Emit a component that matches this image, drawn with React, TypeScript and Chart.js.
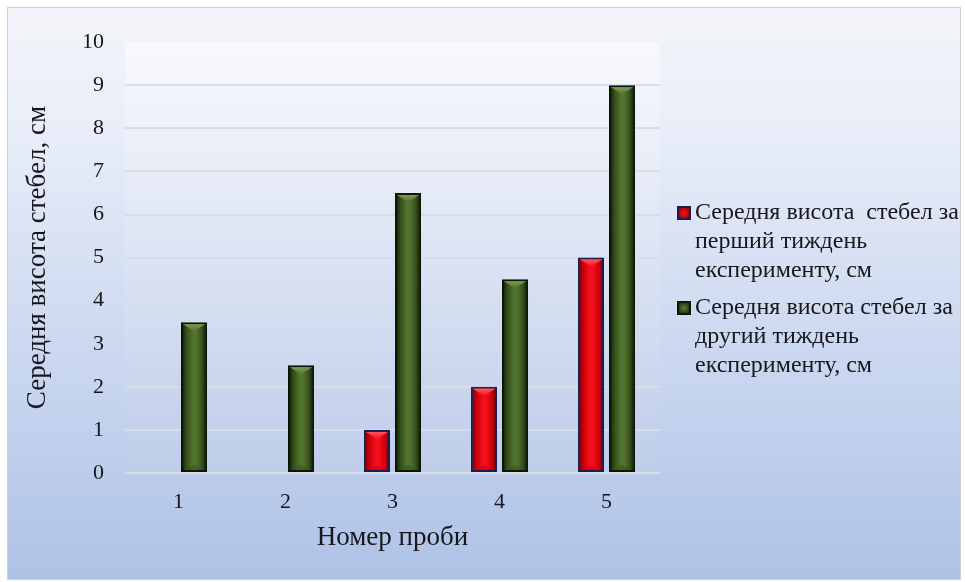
import { useEffect, useRef } from "react";
import { Chart, registerables } from "chart.js";

Chart.register(...registerables);

// Sample numbers on the x axis
const categories = ["1", "2", "3", "4", "5"];

// Mean stem height, cm
const firstWeek = [0, 0, 1, 2, 5];
const secondWeek = [3.5, 2.5, 6.5, 4.5, 9];

// Legend entries, already split into lines
const firstWeekLabel = ["Середня висота  стебел за", "перший тиждень", "експерименту, см"];
const secondWeekLabel = ["Середня висота стебел за", "другий тиждень", "експерименту, см"];

const yMin = 0;
const yMax = 10;
const yStep = 1;

const xTitle = "Номер проби";
const yTitle = "Середня висота стебел, см";

const FONT = "'Liberation Serif', 'Times New Roman', serif";
const TEXT = "#16161c";

type Shade = { edge: string; mid: string; core: string; bevel: string; border: string };

const RED: Shade = { edge: "#8c0008", mid: "#d0000c", core: "#f2101a", bevel: "#ff5a60", border: "#1c1c4e" };
const GREEN: Shade = { edge: "#182b0b", mid: "#36531d", core: "#52722f", bevel: "#819e58", border: "#0c1606" };
const shades = [RED, GREEN];

const backgroundPlugin = {
  id: "panelBackground",
  beforeDraw(chart: Chart) {
    const { ctx, width, height, chartArea } = chart;
    ctx.save();
    const g = ctx.createLinearGradient(0, 0, 0, height);
    g.addColorStop(0, "#f4f5f9");
    g.addColorStop(0.2, "#e9eef9");
    g.addColorStop(1, "#aec2e6");
    ctx.fillStyle = g;
    ctx.fillRect(0, 0, width, height);

    const pg = ctx.createLinearGradient(0, chartArea.top, 0, chartArea.bottom);
    pg.addColorStop(0, "#f8f9fc");
    pg.addColorStop(0.35, "#e4eaf6");
    pg.addColorStop(1, "#bfcdea");
    ctx.fillStyle = pg;
    ctx.fillRect(chartArea.left, chartArea.top, chartArea.right - chartArea.left, chartArea.bottom - chartArea.top);
    ctx.restore();
  },
};

function paintBar(ctx: CanvasRenderingContext2D, l: number, t: number, r: number, b: number, s: Shade) {
  const w = r - l;
  const h = b - t;
  if (w <= 0 || h <= 0) return;
  const g = ctx.createLinearGradient(l, 0, r, 0);
  g.addColorStop(0, s.edge);
  g.addColorStop(0.18, s.mid);
  g.addColorStop(0.45, s.core);
  g.addColorStop(0.6, s.core);
  g.addColorStop(0.85, s.mid);
  g.addColorStop(1, s.edge);
  ctx.fillStyle = g;
  ctx.fillRect(l, t, w, h);

  // bevelled cap at the top of the bar
  const tri = Math.min(h * 0.5, Math.max(6, w * 0.32));
  ctx.beginPath();
  ctx.moveTo(l, t);
  ctx.lineTo(r, t);
  ctx.lineTo((l + r) / 2, t + tri);
  ctx.closePath();
  const bg = ctx.createLinearGradient(0, t, 0, t + tri);
  bg.addColorStop(0, s.bevel);
  bg.addColorStop(1, s.core);
  ctx.fillStyle = bg;
  ctx.globalAlpha = 0.95;
  ctx.fill();

  // faint bevel at the foot
  const foot = Math.min(h * 0.3, 5);
  ctx.beginPath();
  ctx.moveTo(l, b);
  ctx.lineTo(r, b);
  ctx.lineTo((l + r) / 2, b - foot);
  ctx.closePath();
  ctx.fillStyle = s.mid;
  ctx.globalAlpha = 0.6;
  ctx.fill();
  ctx.globalAlpha = 1;
}

const barShadePlugin = {
  id: "barShade",
  afterDatasetsDraw(chart: Chart) {
    const { ctx } = chart;
    ctx.save();
    chart.data.datasets.forEach((_ds, i) => {
      const meta = chart.getDatasetMeta(i);
      const s = shades[i];
      meta.data.forEach((el: any) => {
        const { x, y, base, width } = el.getProps(["x", "y", "base", "width"], true);
        const bw = 2;
        const l = x - width / 2 + bw;
        const r = x + width / 2 - bw;
        const t = Math.min(y, base) + bw;
        const b = Math.max(y, base) - bw;
        if (b - t < 2) return;
        paintBar(ctx, l, t, r, b, s);
      });
    });
    ctx.restore();
  },
};

const legendPlugin = {
  id: "sideLegend",
  afterDraw(chart: Chart) {
    const { ctx, chartArea, height } = chart;
    const items = [firstWeekLabel, secondWeekLabel];
    const lineH = 29;
    const gap = 8;
    const total = items.reduce((n, it) => n + it.length * lineH, 0) + gap * (items.length - 1);
    let yc = height / 2 - 4 - total / 2 + lineH / 2;
    const boxX = chartArea.right + 17;
    const textX = chartArea.right + 35;
    ctx.save();
    ctx.font = `24px ${FONT}`;
    ctx.textBaseline = "middle";
    ctx.textAlign = "left";
    items.forEach((lines, i) => {
      const s = shades[i];
      const size = 14;
      const by = yc - size / 2;
      ctx.fillStyle = s.border;
      ctx.fillRect(boxX, by, size, size);
      const g = ctx.createRadialGradient(boxX + size / 2, by + size / 2, 1, boxX + size / 2, by + size / 2, size / 2);
      g.addColorStop(0, s.core);
      g.addColorStop(1, s.edge);
      ctx.fillStyle = g;
      ctx.fillRect(boxX + 2, by + 2, size - 4, size - 4);
      ctx.fillStyle = TEXT;
      lines.forEach((line, k) => {
        ctx.fillText(line, textX, yc + k * lineH);
      });
      yc += lines.length * lineH + gap;
    });
    ctx.restore();
  },
};

export default function App() {
  const ref = useRef<HTMLCanvasElement>(null);

  useEffect(() => {
    if (!ref.current) return;
    const chart = new Chart(ref.current, {
      type: "bar",
      data: {
        labels: categories,
        datasets: [
          {
            label: firstWeekLabel.join(" "),
            data: firstWeek,
            backgroundColor: RED.mid,
            borderColor: RED.border,
            borderWidth: 2,
            borderSkipped: false,
            categoryPercentage: 0.58,
            barPercentage: 0.84,
          },
          {
            label: secondWeekLabel.join(" "),
            data: secondWeek,
            backgroundColor: GREEN.mid,
            borderColor: GREEN.border,
            borderWidth: 2,
            borderSkipped: false,
            categoryPercentage: 0.58,
            barPercentage: 0.84,
          },
        ],
      },
      options: {
        responsive: false,
        animation: false,
        events: [],
        layout: { padding: { left: 0, top: 29, right: 300, bottom: 0 } },
        plugins: {
          legend: { display: false },
          tooltip: { enabled: false },
        },
        scales: {
          x: {
            grid: { display: false, drawTicks: false },
            border: { display: false },
            ticks: { padding: 16, color: TEXT, font: { family: FONT, size: 22 } },
            title: {
              display: true,
              text: xTitle,
              color: TEXT,
              font: { family: FONT, size: 27 },
              padding: { top: 4, bottom: 25 },
            },
            afterFit: (scale: any) => {
              scale.height = 106;
            },
          },
          y: {
            min: yMin,
            max: yMax,
            ticks: { stepSize: yStep, padding: 21, color: TEXT, font: { family: FONT, size: 22 } },
            grid: {
              // no rule along the top edge of the plot
              color: (c: any) => (c.tick && c.tick.value === yMax ? "rgba(0,0,0,0)" : "#d9dde7"),
              lineWidth: 2,
              drawTicks: false,
            },
            border: { display: false },
            title: {
              display: true,
              text: yTitle,
              color: TEXT,
              font: { family: FONT, size: 27 },
              padding: { top: 14, bottom: 4 },
            },
            afterFit: (scale: any) => {
              scale.width = 117;
            },
          },
        },
      },
      plugins: [backgroundPlugin, barShadePlugin, legendPlugin],
    });
    return () => chart.destroy();
  }, []);

  return (
    <div
      style={{
        position: "absolute",
        left: 7,
        top: 7,
        width: 954,
        height: 573,
        boxSizing: "border-box",
        border: "1px solid #cfd1d6",
        background: "#f4f5f9",
      }}
    >
      <canvas ref={ref} width={952} height={571} style={{ display: "block" }} />
    </div>
  );
}
